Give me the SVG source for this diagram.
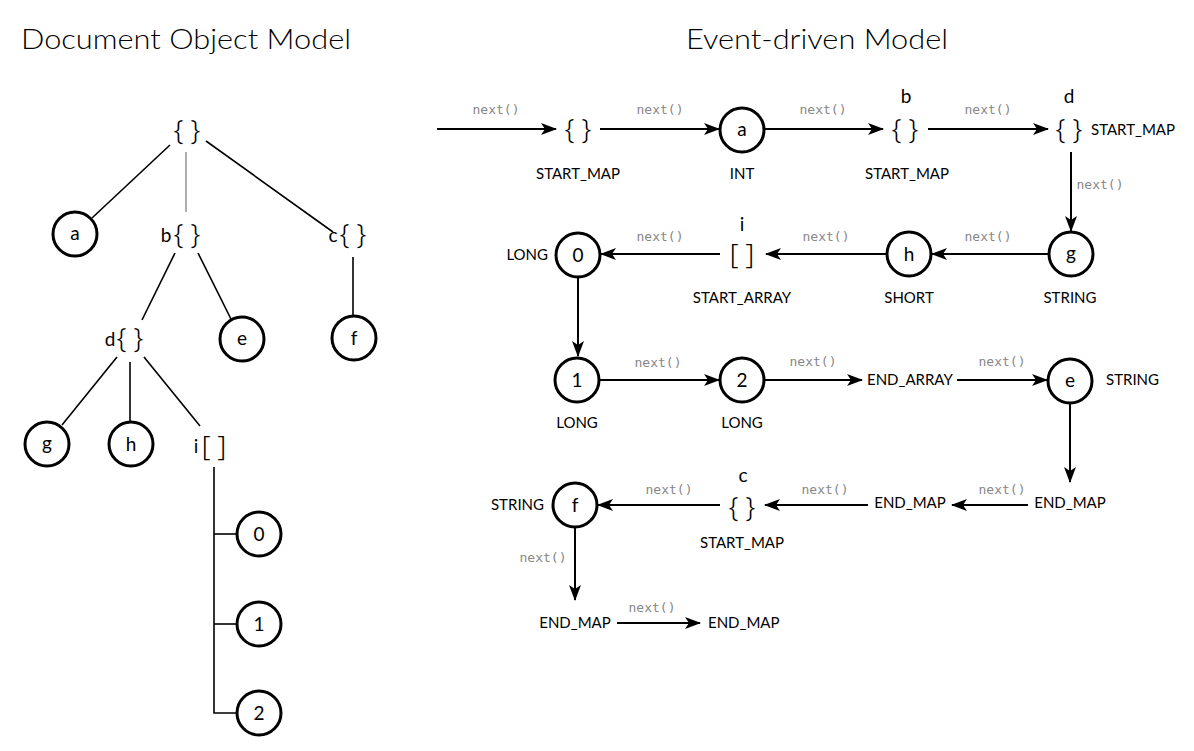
<svg xmlns="http://www.w3.org/2000/svg" width="1194" height="751" viewBox="0 0 1194 751">
<style>
.title{font-family:Lato,"Liberation Sans",sans-serif;font-weight:300;font-size:28px;fill:#000}
.node{fill:#fff;stroke:#000;stroke-width:3}
.ltr{font-family:Lato,"Liberation Sans",sans-serif;font-size:19px;fill:#000;text-anchor:middle}
.brace{font-family:"Noto Sans","Liberation Sans",sans-serif;font-weight:300;font-size:27px;fill:#000;text-anchor:middle}
.lbl{font-family:Lato,"Liberation Sans",sans-serif;font-size:15px;fill:#000}
.mid{text-anchor:middle}
.end{text-anchor:end}
.nx{font-family:"DejaVu Sans Mono","Liberation Mono",monospace;font-size:13px;fill:#888;text-anchor:middle}
.tl{stroke:#000;stroke-width:1.6;fill:none}
.tg{stroke:#999;stroke-width:1.6;fill:none}
.ar{stroke:#000;stroke-width:2;fill:none;marker-end:url(#ah)}
</style>
<defs>
<marker id="ah" viewBox="0 0 16 12" refX="15" refY="6" markerWidth="16" markerHeight="12" markerUnits="userSpaceOnUse" orient="auto">
<path d="M0,0 L16,6 L0,12 L4,6 Z" fill="#000"/>
</marker>
</defs>
<rect width="1194" height="751" fill="#fff"/>

<text class="title" x="21" y="49" textLength="330" lengthAdjust="spacingAndGlyphs">Document Object Model</text>
<text class="title" x="686" y="49" textLength="262" lengthAdjust="spacingAndGlyphs">Event-driven Model</text>

<!-- Left tree connectors -->
<g id="tree-connectors">
<line class="tl" x1="170" y1="145" x2="92" y2="218"/>
<line class="tg" x1="186" y1="152" x2="186" y2="212"/>
<line class="tl" x1="206" y1="141" x2="333" y2="232"/>
<line class="tl" x1="353" y1="257" x2="353" y2="316"/>
<line class="tl" x1="175" y1="253" x2="142" y2="320"/>
<line class="tl" x1="198" y1="253" x2="231" y2="319"/>
<line class="tl" x1="117" y1="357" x2="62" y2="425"/>
<line class="tl" x1="130" y1="362" x2="130" y2="421"/>
<line class="tl" x1="144" y1="357" x2="200" y2="426"/>
<polyline class="tl" points="214,467 214,713 236,713"/>
<line class="tl" x1="214" y1="534" x2="236" y2="534"/>
<line class="tl" x1="214" y1="624" x2="236" y2="624"/>
</g>

<!-- Left tree nodes -->
<g id="t-root"><text class="brace" x="187" y="140">{ }</text></g>
<g id="t-a"><circle class="node" cx="75" cy="234" r="22"/><text class="ltr" x="75" y="240">a</text></g>
<g id="t-b"><text class="ltr" x="166" y="242">b</text><text class="brace" x="187" y="244">{ }</text></g>
<g id="t-c"><text class="ltr" x="333" y="242">c</text><text class="brace" x="353" y="244">{ }</text></g>
<g id="t-d"><text class="ltr" x="110" y="346">d</text><text class="brace" x="130" y="348">{ }</text></g>
<g id="t-e"><circle class="node" cx="242" cy="339" r="22"/><text class="ltr" x="242" y="345">e</text></g>
<g id="t-f"><circle class="node" cx="354" cy="338" r="22"/><text class="ltr" x="354" y="345">f</text></g>
<g id="t-g"><circle class="node" cx="47" cy="444" r="22"/><text class="ltr" x="47" y="450">g</text></g>
<g id="t-h"><circle class="node" cx="131" cy="444" r="22"/><text class="ltr" x="131" y="451">h</text></g>
<g id="t-i"><text class="ltr" x="196" y="453">i</text><text class="brace" x="214" y="456">[ ]</text></g>
<g id="t-0"><circle class="node" cx="259" cy="534" r="22"/><text class="ltr" x="259" y="541">0</text></g>
<g id="t-1"><circle class="node" cx="259" cy="624" r="22"/><text class="ltr" x="259" y="631">1</text></g>
<g id="t-2"><circle class="node" cx="259" cy="713" r="22"/><text class="ltr" x="259" y="720">2</text></g>

<!-- Right: connectors -->
<g id="connectors">
<line class="ar" x1="437" y1="129" x2="556" y2="129"/>
<line class="ar" x1="600" y1="129" x2="719" y2="129"/>
<line class="ar" x1="765" y1="129" x2="883" y2="129"/>
<line class="ar" x1="928" y1="129" x2="1048" y2="129"/>
<line class="ar" x1="1071" y1="152" x2="1071" y2="231"/>
<line class="ar" x1="1048" y1="254" x2="932" y2="254"/>
<line class="ar" x1="886" y1="254" x2="766" y2="254"/>
<line class="ar" x1="720" y1="254" x2="601" y2="254"/>
<line class="ar" x1="578" y1="278" x2="578" y2="356"/>
<line class="ar" x1="600" y1="380" x2="719" y2="380"/>
<line class="ar" x1="765" y1="380" x2="862" y2="380"/>
<line class="ar" x1="957" y1="380" x2="1047" y2="380"/>
<line class="ar" x1="1070" y1="404" x2="1070" y2="482"/>
<line class="ar" x1="1028" y1="505" x2="952" y2="505"/>
<line class="ar" x1="868" y1="505" x2="765" y2="505"/>
<line class="ar" x1="720" y1="505" x2="598" y2="505"/>
<line class="ar" x1="575" y1="528" x2="575" y2="600"/>
<line class="ar" x1="617" y1="623" x2="700" y2="623"/>
<text class="nx" x="496" y="114">next()</text>
<text class="nx" x="660" y="114">next()</text>
<text class="nx" x="823" y="114">next()</text>
<text class="nx" x="988" y="114">next()</text>
<text class="nx" x="1100" y="189">next()</text>
<text class="nx" x="988" y="241">next()</text>
<text class="nx" x="826" y="241">next()</text>
<text class="nx" x="660" y="241">next()</text>
<text class="nx" x="658" y="367">next()</text>
<text class="nx" x="813" y="366">next()</text>
<text class="nx" x="1002" y="366">next()</text>
<text class="nx" x="1002" y="494">next()</text>
<text class="nx" x="825" y="494">next()</text>
<text class="nx" x="669" y="494">next()</text>
<text class="nx" x="543" y="562">next()</text>
<text class="nx" x="652" y="612">next()</text>
</g>

<!-- Right: nodes -->
<g id="e-root"><text class="brace" x="578" y="139">{ }</text><text class="lbl mid" x="578" y="179">START_MAP</text></g>
<g id="e-a"><circle class="node" cx="742" cy="130" r="22"/><text class="ltr" x="742" y="136">a</text><text class="lbl mid" x="742" y="179">INT</text></g>
<g id="e-b"><text class="ltr" x="906" y="103">b</text><text class="brace" x="905" y="139">{ }</text><text class="lbl mid" x="907" y="179">START_MAP</text></g>
<g id="e-d"><text class="ltr" x="1069" y="103">d</text><text class="brace" x="1069" y="139">{ }</text><text class="lbl" x="1091" y="135">START_MAP</text></g>
<g id="e-g"><circle class="node" cx="1071" cy="254" r="22"/><text class="ltr" x="1071" y="260">g</text><text class="lbl mid" x="1070" y="303">STRING</text></g>
<g id="e-h"><circle class="node" cx="909" cy="254" r="22"/><text class="ltr" x="909" y="261">h</text><text class="lbl mid" x="909" y="303">SHORT</text></g>
<g id="e-i"><text class="ltr" x="742" y="231">i</text><text class="brace" x="742" y="264">[ ]</text><text class="lbl mid" x="742" y="303">START_ARRAY</text></g>
<g id="e-0"><circle class="node" cx="578" cy="255" r="22"/><text class="ltr" x="578" y="262">0</text><text class="lbl end" x="548" y="260">LONG</text></g>
<g id="e-1"><circle class="node" cx="577" cy="380" r="22"/><text class="ltr" x="577" y="387">1</text><text class="lbl mid" x="577" y="428">LONG</text></g>
<g id="e-2"><circle class="node" cx="742" cy="380" r="22"/><text class="ltr" x="742" y="387">2</text><text class="lbl mid" x="742" y="428">LONG</text></g>
<g id="e-endarray"><text class="lbl" x="867" y="385">END_ARRAY</text></g>
<g id="e-e"><circle class="node" cx="1070" cy="381" r="22"/><text class="ltr" x="1070" y="387">e</text><text class="lbl" x="1106" y="385">STRING</text></g>
<g id="e-endmap1"><text class="lbl mid" x="1070" y="508">END_MAP</text></g>
<g id="e-endmap2"><text class="lbl mid" x="910" y="508">END_MAP</text></g>
<g id="e-c"><text class="ltr" x="743" y="482">c</text><text class="brace" x="742" y="517">{ }</text><text class="lbl mid" x="742" y="548">START_MAP</text></g>
<g id="e-f"><circle class="node" cx="575" cy="505" r="22"/><text class="ltr" x="575" y="512">f</text><text class="lbl end" x="544" y="510">STRING</text></g>
<g id="e-endmap3"><text class="lbl mid" x="575" y="628">END_MAP</text></g>
<g id="e-endmap4"><text class="lbl" x="708" y="628">END_MAP</text></g>
</svg>
